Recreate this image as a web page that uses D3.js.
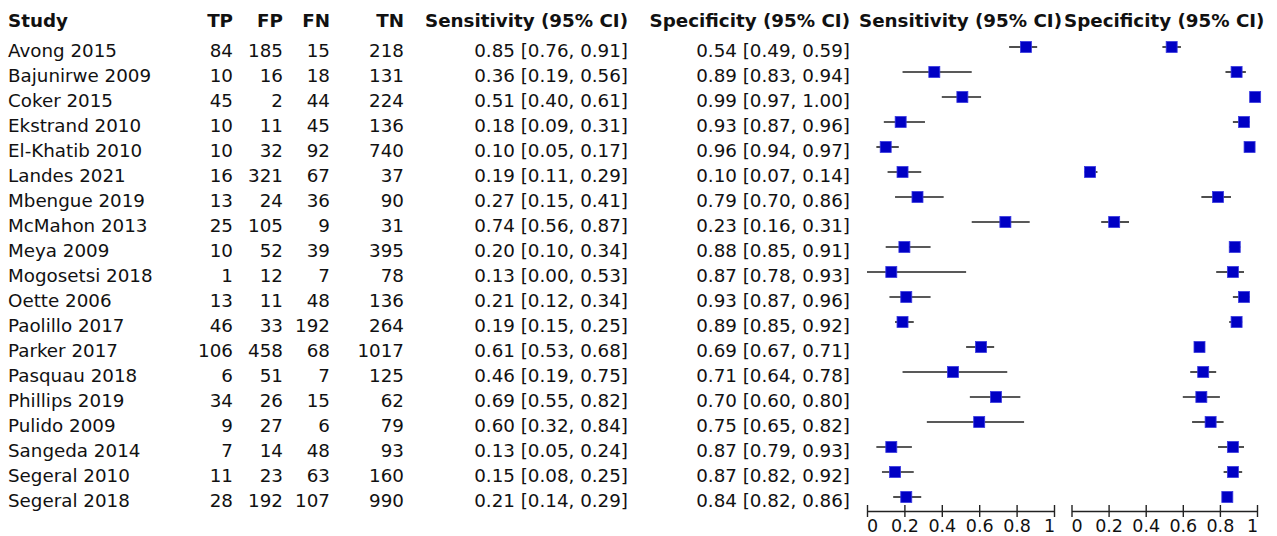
<!DOCTYPE html>
<html>
<head>
<meta charset="utf-8">
<script src="https://cdn.jsdelivr.net/npm/d3@7"></script>
<style>
	body { margin: 0; background: #fff; }
	text { font-family: "DejaVu Sans", sans-serif; fill: #111; }
</style>
</head>
<body>
<svg id="svg" width="1277" height="536"></svg>
<script>
const $svg = d3.select('#svg')

const studies = ['Avong 2015', 'Bajunirwe 2009', 'Coker 2015', 'Ekstrand 2010', 'El-Khatib 2010', 'Landes 2021', 'Mbengue 2019', 'McMahon 2013', 'Meya 2009', 'Mogosetsi 2018', 'Oette 2006', 'Paolillo 2017', 'Parker 2017', 'Pasquau 2018', 'Phillips 2019', 'Pulido 2009', 'Sangeda 2014', 'Segeral 2010', 'Segeral 2018']
const tp = [84, 10, 45, 10, 10, 16, 13, 25, 10, 1, 13, 46, 106, 6, 34, 9, 7, 11, 28]
const fp = [185, 16, 2, 11, 32, 321, 24, 105, 52, 12, 11, 33, 458, 51, 26, 27, 14, 23, 192]
const fn = [15, 18, 44, 45, 92, 67, 36, 9, 39, 7, 48, 192, 68, 7, 15, 6, 48, 63, 107]
const tn = [218, 131, 224, 136, 740, 37, 90, 31, 395, 78, 136, 264, 1017, 125, 62, 79, 93, 160, 990]
const sens = [0.85, 0.36, 0.51, 0.18, 0.10, 0.19, 0.27, 0.74, 0.20, 0.13, 0.21, 0.19, 0.61, 0.46, 0.69, 0.60, 0.13, 0.15, 0.21]
const sensLo = [0.76, 0.19, 0.40, 0.09, 0.05, 0.11, 0.15, 0.56, 0.10, 0.00, 0.12, 0.15, 0.53, 0.19, 0.55, 0.32, 0.05, 0.08, 0.14]
const sensHi = [0.91, 0.56, 0.61, 0.31, 0.17, 0.29, 0.41, 0.87, 0.34, 0.53, 0.34, 0.25, 0.68, 0.75, 0.82, 0.84, 0.24, 0.25, 0.29]
const spec = [0.54, 0.89, 0.99, 0.93, 0.96, 0.10, 0.79, 0.23, 0.88, 0.87, 0.93, 0.89, 0.69, 0.71, 0.70, 0.75, 0.87, 0.87, 0.84]
const specLo = [0.49, 0.83, 0.97, 0.87, 0.94, 0.07, 0.70, 0.16, 0.85, 0.78, 0.87, 0.85, 0.67, 0.64, 0.60, 0.65, 0.79, 0.82, 0.82]
const specHi = [0.59, 0.94, 1.00, 0.96, 0.97, 0.14, 0.86, 0.31, 0.91, 0.93, 0.96, 0.92, 0.71, 0.78, 0.80, 0.82, 0.93, 0.92, 0.86]
const axisTicks = [0, 0.2, 0.4, 0.6, 0.8, 1]

const rows = studies.map((s, i) => ({
	study: s, tp: tp[i], fp: fp[i], fn: fn[i], tn: tn[i],
	sens: sens[i], sensLo: sensLo[i], sensHi: sensHi[i],
	spec: spec[i], specLo: specLo[i], specHi: specHi[i],
}))

const f2 = d3.format('.2f')
const ciText = (v, lo, hi) => `${f2(v)} [${f2(lo)}, ${f2(hi)}]`

// row centres (markers) and text baselines
const y = d3.scalePoint().domain(studies).range([47, 47 + 25 * (studies.length - 1)])
const baseline = d => y(d) + 10

const columns = [
	{ head: 'Study', x: 8, anchor: 'start', value: d => d.study },
	{ head: 'TP', x: 233, anchor: 'end', value: d => d.tp },
	{ head: 'FP', x: 283, anchor: 'end', value: d => d.fp },
	{ head: 'FN', x: 330, anchor: 'end', value: d => d.fn },
	{ head: 'TN', x: 404, anchor: 'end', value: d => d.tn },
	{ head: 'Sensitivity (95% CI)', x: 628, anchor: 'end', value: d => ciText(d.sens, d.sensLo, d.sensHi) },
	{ head: 'Specificity (95% CI)', x: 850, anchor: 'end', value: d => ciText(d.spec, d.specLo, d.specHi) },
]

const fontSize = '18.3px'

columns.forEach(col => {
	$svg.append('text')
		.attr('x', col.x).attr('y', 27)
		.attr('text-anchor', col.anchor)
		.attr('font-weight', 'bold')
		.style('font-size', fontSize)
		.text(col.head)
	$svg.append('g').selectAll('text').data(rows).join('text')
		.attr('x', col.x)
		.attr('y', d => baseline(d.study))
		.attr('text-anchor', col.anchor)
		.style('font-size', fontSize)
		.text(col.value)
})

const panels = [
	{ head: 'Sensitivity (95% CI)', range: [867, 1054], v: 'sens', lo: 'sensLo', hi: 'sensHi' },
	{ head: 'Specificity (95% CI)', range: [1071.5, 1257], v: 'spec', lo: 'specLo', hi: 'specHi' },
]

const axisY = 511
const sq = 11

panels.forEach(p => {
	const x = d3.scaleLinear().domain([0, 1]).range(p.range)
	const g = $svg.append('g')

	g.append('text')
		.attr('x', (p.range[0] + p.range[1]) / 2).attr('y', 27)
		.attr('text-anchor', 'middle')
		.attr('font-weight', 'bold')
		.style('font-size', fontSize)
		.text(p.head)

	g.selectAll('line.ci').data(rows).join('line')
		.attr('class', 'ci')
		.attr('x1', d => x(d[p.lo])).attr('x2', d => x(d[p.hi]))
		.attr('y1', d => y(d.study)).attr('y2', d => y(d.study))
		.attr('stroke', '#222').attr('stroke-width', 1.6)

	g.selectAll('rect').data(rows).join('rect')
		.attr('x', d => x(d[p.v]) - sq / 2)
		.attr('y', d => y(d.study) - sq / 2)
		.attr('width', sq).attr('height', sq)
		.attr('fill', '#0000c4')
		.attr('stroke', '#3a3ae0').attr('stroke-width', 0.8)

	const axis = d3.axisBottom(x)
		.tickValues(axisTicks)
		.tickFormat(d3.format('~g'))
		.tickSizeOuter(0)
	const $axis = g.append('g')
		.attr('transform', `translate(0, ${axisY})`)
		.call(axis)
	$axis.select('.domain').attr('stroke', '#222').attr('stroke-width', 1.4)
	$axis.selectAll('.tick line')
		.attr('y1', -6).attr('y2', 6)
		.attr('stroke', '#222').attr('stroke-width', 1.4)
	$axis.selectAll('.tick text')
		.attr('y', 21)
		.attr('dy', 0)
		.attr('dx', d => d === 0 ? 5 : d === 1 ? -5 : 0)
		.style('font-family', '"DejaVu Sans", sans-serif')
		.style('font-size', '17.5px')
		.attr('fill', '#111')
})
</script>
</body>
</html>
